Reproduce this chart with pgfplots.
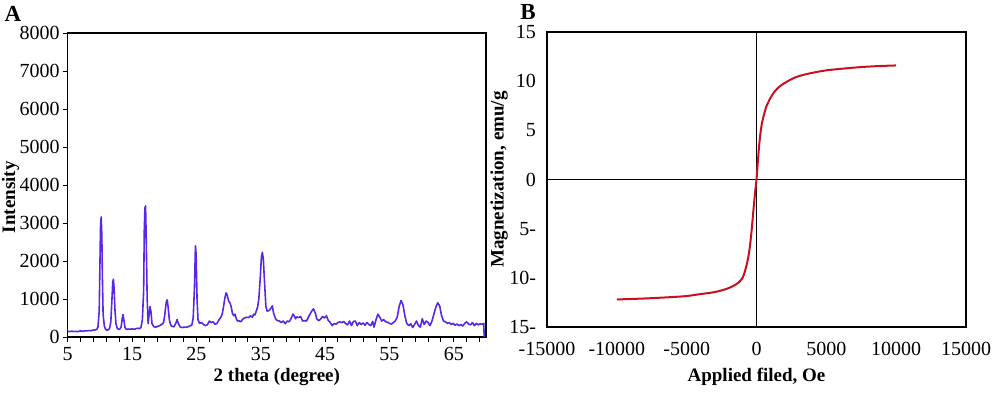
\documentclass[border=0pt]{standalone}
\usepackage{pgfplots}
\pgfplotsset{compat=1.18}
\usepackage{pgfplotstable}
\usepackage{fontspec}
\setmainfont{Liberation Serif}
\definecolor{xrd}{RGB}{88,40,230}
\definecolor{mag}{RGB}{200,16,30}

\pgfplotstableread{
x y
5.0 150
5.3 140
5.6 155
5.9 145
6.2 150
6.5 140
6.8 155
7.1 160
7.4 150
7.7 165
8.0 160
8.3 170
8.6 165
8.9 180
9.2 185
9.5 200
9.7 260
9.9 700
10.0 1800
10.1 2900
10.2 3160
10.3 2700
10.4 1500
10.5 600
10.7 280
10.9 200
11.1 180
11.3 190
11.5 220
11.7 400
11.85 900
12.0 1450
12.1 1520
12.2 1300
12.35 700
12.5 350
12.7 230
12.9 200
13.1 210
13.3 260
13.5 520
13.6 590
13.7 480
13.9 250
14.1 200
14.4 210
14.7 205
15.0 215
15.3 200
15.6 220
15.9 230
16.2 220
16.4 260
16.6 450
16.8 1200
16.9 2800
17.0 3400
17.1 3450
17.2 2600
17.35 1000
17.5 350
17.65 600
17.8 800
17.95 650
18.1 350
18.4 270
18.7 260
19.0 280
19.3 300
19.6 330
19.9 380
20.1 600
20.3 900
20.45 980
20.6 800
20.8 450
21.0 320
21.2 280
21.5 270
21.8 360
22.0 460
22.2 350
22.5 260
22.8 250
23.1 260
23.4 255
23.7 270
24.0 290
24.3 320
24.5 500
24.7 1300
24.85 2400
24.95 2200
25.1 1000
25.25 450
25.5 360
25.8 380
26.1 330
26.4 300
26.7 320
27.0 420
27.3 380
27.6 400
27.9 330
28.2 360
28.5 450
28.8 520
29.0 600
29.2 780
29.4 1000
29.6 1160
29.8 1100
30.0 950
30.2 900
30.4 800
30.6 620
30.8 560
31.0 600
31.2 480
31.4 420
31.6 430
31.9 400
32.2 470
32.5 500
32.8 520
33.1 510
33.4 560
33.7 520
33.9 600
34.1 580
34.3 680
34.5 780
34.7 1000
34.9 1500
35.1 2100
35.25 2230
35.4 2050
35.6 1400
35.8 800
36.0 680
36.3 700
36.6 760
36.8 820
37.0 620
37.3 480
37.6 430
37.9 420
38.2 380
38.5 420
38.8 350
39.1 420
39.4 400
39.7 480
40.0 600
40.2 560
40.4 480
40.6 530
40.9 510
41.2 540
41.5 420
41.8 430
42.1 420
42.4 520
42.7 620
43.0 700
43.2 740
43.5 620
43.7 480
44.0 430
44.3 470
44.6 540
44.9 500
45.2 560
45.5 430
45.8 380
46.1 300
46.4 350
46.7 340
47.0 380
47.3 400
47.6 380
47.9 410
48.2 350
48.5 320
48.8 420
49.1 300
49.4 410
49.7 420
50.0 300
50.3 380
50.6 330
50.9 370
51.2 310
51.5 380
51.8 330
52.1 300
52.4 410
52.6 260
52.9 450
53.2 600
53.5 520
53.8 420
54.1 460
54.4 400
54.7 390
55.0 360
55.3 340
55.6 380
55.9 420
56.2 520
56.5 800
56.8 960
57.1 850
57.4 550
57.7 350
58.0 300
58.3 350
58.6 250
58.9 330
59.2 420
59.5 300
59.8 260
60.1 480
60.4 330
60.7 420
61.0 380
61.3 300
61.6 420
61.9 600
62.2 780
62.5 900
62.8 820
63.1 560
63.4 420
63.7 400
64.0 360
64.3 380
64.6 330
64.9 360
65.2 310
65.5 340
65.8 300
66.1 330
66.4 290
66.7 360
67.0 400
67.3 340
67.6 320
67.9 380
68.2 300
68.5 360
68.8 320
69.1 350
69.4 330
69.65 360
69.72 0
}\xrddata

\pgfplotstableread{
x y
-10000 -12.2
-9000 -12.15
-8000 -12.1
-7000 -12.03
-6000 -11.95
-5000 -11.85
-4000 -11.65
-3000 -11.45
-2200 -11.15
-1700 -10.85
-1300 -10.5
-1000 -10.0
-800 -9.2
-600 -8.0
-500 -7.1
-400 -5.9
-300 -4.4
-200 -2.8
-100 -1.3
0 0
100 1.9
200 3.6
300 4.9
400 5.8
500 6.4
700 7.4
1000 8.3
1300 8.95
1600 9.4
2000 9.8
2500 10.2
3000 10.5
4000 10.85
5000 11.1
6000 11.25
7000 11.38
8000 11.48
9000 11.55
10000 11.6
}\magdata

\begin{document}
\begin{tikzpicture}[font=\fontsize{10}{11}\selectfont]
\useasboundingbox (0,0) rectangle (500pt,196pt);
\pgfplotsset{
  every axis/.append style={
    scale only axis,
    anchor=south west,
    axis line style={black, line width=0.6pt},
    tick style={black, line width=0.5pt},
    /pgf/number format/1000 sep={},
    /pgf/number format/assume math mode=true,
    tick label style={font=\fontsize{10}{11}\selectfont},
    label style={font=\fontsize{9.5}{11}\bfseries},
    scaled ticks=false,
  }
}
% Panel A
\begin{axis}[
  at={(33.85pt,27.5pt)},
  width=209.15pt, height=152pt,
  xmin=5, xmax=70, ymin=0, ymax=8000,
  xtick={5,15,...,65},
  minor xtick={5,7,...,69},
  ytick={0,1000,...,8000},
  tick align=outside,
  major tick length=2.5pt,
  minor tick length=2.5pt,
  xtick pos=bottom, ytick pos=left,
  xticklabel style={yshift=1pt},
  yticklabel style={xshift=2pt},
  xlabel={2 theta (degree)},
  ylabel={Intensity},
  xlabel style={at={(axis description cs:0.5,0)}, anchor=center, yshift=-20pt},
  ylabel style={at={([xshift=-28.5pt]axis description cs:0,0.46)}, anchor=center},
]
\addplot[xrd, line width=0.8pt, line join=round] table[x=x,y=y] {\xrddata};
\end{axis}
% Panel B
\begin{axis}[
  at={(273.5pt,32.5pt)},
  width=209.5pt, height=147.5pt,
  xmin=-15000, xmax=15000, ymin=-15, ymax=15,
  xtick={-15000,-10000,...,15000},
  xticklabels={-15000,-10000,-5000,0,5000,10000,15000},
  ytick={-15,-10,...,15},
  yticklabels={15-,10-,5-,0,5,10,15},
  major tick length=0pt,
  xtick pos=bottom, ytick pos=left,
  xticklabel style={yshift=-4pt},
  yticklabel style={xshift=-2pt},
  xlabel={Applied filed, Oe},
  ylabel={Magnetization, emu/g},
  xlabel style={at={(axis description cs:0.5,0)}, anchor=center, yshift=-25pt},
  ylabel style={at={([xshift=-24pt]axis description cs:0,0.5)}, anchor=center},
]
\addplot[black, line width=0.6pt] coordinates {(0,-15) (0,15)};
\addplot[black, line width=0.6pt] coordinates {(-15000,0) (15000,0)};
\addplot[mag, line width=1pt, smooth] table[x=x,y=y] {\magdata};
\end{axis}
\node[font=\fontsize{11.5}{12}\bfseries] at (6.5pt,189pt) {A};
\node[font=\fontsize{11.5}{12}\bfseries] at (264pt,190pt) {B};
\end{tikzpicture}
\end{document}
